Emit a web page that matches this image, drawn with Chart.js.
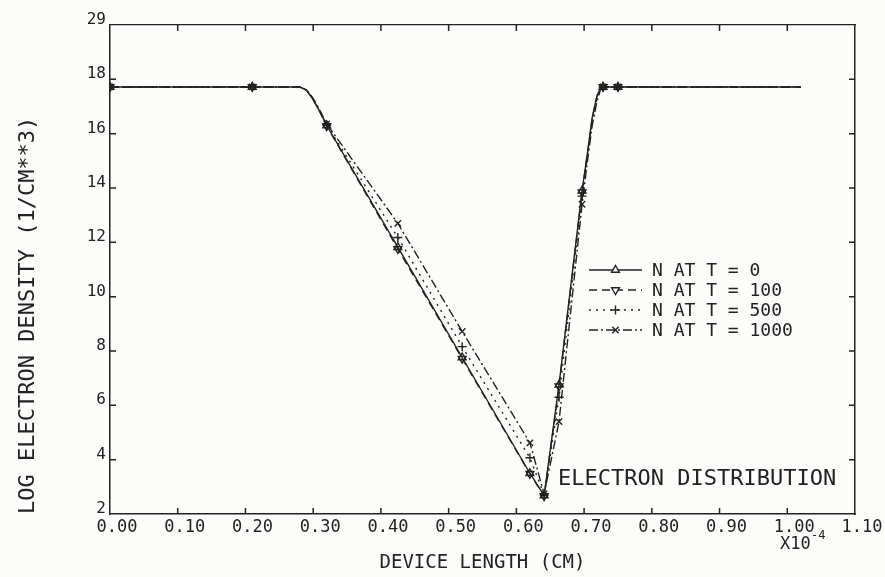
<!DOCTYPE html>
<html>
<head>
<meta charset="utf-8">
<title>Electron distribution</title>
<script src="https://cdn.jsdelivr.net/npm/chart.js@4.4.1/dist/chart.umd.min.js"></script>
<style>
    html, body { margin: 0; padding: 0; background: #fcfcfa; }
    canvas { display: block; }
</style>
</head>
<body>
<canvas id="chart" width="885" height="577"></canvas>
<script>
(function(global){
    "use strict";

    // device length, in units of 1e-4 cm
    var POSITIONS = [0.00, 0.21, 0.28, 0.29, 0.30, 0.31, 0.32, 0.425, 0.52, 0.62, 0.641, 0.663, 0.697, 0.705, 0.712, 0.719, 0.724, 0.728, 0.75, 1.02];

    // log electron density (1/cm**3) at each position
    var N_T0    = [17.72, 17.72, 17.72, 17.60, 17.25, 16.80, 16.30, 11.82, 7.76, 3.50, 2.68, 6.76, 13.90, 15.30, 16.60, 17.40, 17.65, 17.72, 17.72, 17.72];
    var N_T100  = [17.72, 17.72, 17.72, 17.60, 17.25, 16.79, 16.28, 11.76, 7.72, 3.48, 2.66, 6.70, 13.85, 15.25, 16.55, 17.38, 17.64, 17.72, 17.72, 17.72];
    var N_T500  = [17.72, 17.72, 17.72, 17.61, 17.27, 16.82, 16.32, 12.18, 8.16, 4.07, 2.70, 6.30, 13.70, 15.20, 16.45, 17.30, 17.62, 17.72, 17.72, 17.72];
    var N_T1000 = [17.72, 17.72, 17.72, 17.62, 17.30, 16.85, 16.36, 12.70, 8.72, 4.62, 2.74, 5.40, 13.40, 15.00, 16.30, 17.20, 17.60, 17.72, 17.72, 17.72];

    var SERIES_NAMES = ["N AT T = 0", "N AT T = 100", "N AT T = 500", "N AT T = 1000"];

    // positions where the plotter put a symbol on each curve
    var MARKER_POSITIONS = [0.00, 0.21, 0.32, 0.425, 0.52, 0.62, 0.641, 0.663, 0.697, 0.728, 0.75];

    // top tick of the y axis is printed as "29" on the original
    var Y_TICK_TEXT = { 20: "29" };

    var INK = "#222222";
    var PAPER = "#fcfcfa";
    var MONO = "'DejaVu Sans Mono', 'Liberation Mono', monospace";

    var points = function(ys) {
        var out = [];
        for(var i = 0; i < POSITIONS.length; i++) {
            out.push({ x: POSITIONS[i], y: ys[i] });
        }
        return out;
    };

    var markerRadius = function(ctx) {
        var raw = ctx.raw;
        if(raw && MARKER_POSITIONS.indexOf(raw.x) >= 0) {
            return 4.5;
        }
        return 0;
    };

    var makeSeries = function(label, ys, dash, style, rotation) {
        return {
            label: label,
            data: points(ys),
            borderColor: INK,
            borderWidth: 1.4,
            borderDash: dash,
            backgroundColor: "rgba(0,0,0,0)",
            pointStyle: style,
            pointRotation: rotation,
            pointRadius: markerRadius,
            pointBorderColor: INK,
            pointBorderWidth: 1.4,
            pointBackgroundColor: "rgba(0,0,0,0)",
            tension: 0,
            fill: false
        };
    };

    var datasets = [
        makeSeries(SERIES_NAMES[0], N_T0, [], "triangle", 0),
        makeSeries(SERIES_NAMES[1], N_T100, [8, 5], "triangle", 180),
        makeSeries(SERIES_NAMES[2], N_T500, [2, 5], "cross", 0),
        makeSeries(SERIES_NAMES[3], N_T1000, [9, 3, 2, 3], "crossRot", 0)
    ];

    // tick marks that point into the plot on all four sides
    var innerTicks = {
        id: "innerTicks",
        afterDatasetsDraw: function(chart) {
            var ctx = chart.ctx;
            var area = chart.chartArea;
            var len = 6;

            ctx.save();
            ctx.strokeStyle = INK;
            ctx.lineWidth = 1.5;
            ctx.setLineDash([]);
            ctx.beginPath();

            ["x", "x2"].forEach(function(id){
                var scale = chart.scales[id];
                var y0 = id === "x" ? area.bottom : area.top;
                var dir = id === "x" ? -1 : 1;
                scale.ticks.forEach(function(t){
                    var px = scale.getPixelForValue(t.value);
                    if(px <= area.left + 1 || px >= area.right - 1) {
                        return;
                    }
                    ctx.moveTo(px, y0);
                    ctx.lineTo(px, y0 + dir * len);
                });
            });

            ["y", "y2"].forEach(function(id){
                var scale = chart.scales[id];
                var x0 = id === "y" ? area.left : area.right;
                var dir = id === "y" ? 1 : -1;
                scale.ticks.forEach(function(t){
                    var py = scale.getPixelForValue(t.value);
                    if(py <= area.top + 1 || py >= area.bottom - 1) {
                        return;
                    }
                    ctx.moveTo(x0, py);
                    ctx.lineTo(x0 + dir * len, py);
                });
            });

            ctx.stroke();
            ctx.restore();
        }
    };

    // plotter style legend: line sample with the symbol in the middle
    var plotterLegend = {
        id: "plotterLegend",
        afterDraw: function(chart) {
            var ctx = chart.ctx;
            var left = 589, right = 642, textX = 652;
            var rowY = [270, 290, 310, 330];

            ctx.save();
            chart.data.datasets.forEach(function(ds, i){
                var y = rowY[i];

                ctx.strokeStyle = INK;
                ctx.lineWidth = 1.4;
                ctx.setLineDash(ds.borderDash || []);
                ctx.beginPath();
                ctx.moveTo(left, y);
                ctx.lineTo(right, y);
                ctx.stroke();
                ctx.setLineDash([]);

                ctx.fillStyle = PAPER;
                if(global.Chart.helpers && global.Chart.helpers.drawPoint) {
                    global.Chart.helpers.drawPoint(ctx, {
                        pointStyle: ds.pointStyle,
                        rotation: ds.pointRotation,
                        radius: 4.5,
                        borderWidth: 1.4
                    }, (left + right) / 2, y);
                }

                ctx.fillStyle = INK;
                ctx.font = "18px " + MONO;
                ctx.textAlign = "left";
                ctx.textBaseline = "middle";
                ctx.fillText(ds.label, textX, y + 1);
            });

            // caption inside the plot
            ctx.font = "22px " + MONO;
            ctx.textBaseline = "alphabetic";
            ctx.fillText("ELECTRON DISTRIBUTION", 558, 485);

            // x axis multiplier
            ctx.font = "17px " + MONO;
            ctx.fillText("X10", 780, 549);
            ctx.font = "12px " + MONO;
            ctx.fillText("-4", 811, 539);

            ctx.restore();
        }
    };

    var forceWidth = function(w) {
        return function(scale) { scale.width = w; };
    };
    var forceHeight = function(h) {
        return function(scale) { scale.height = h; };
    };

    var ctx = document.getElementById("chart").getContext("2d");

    new Chart(ctx, {
        type: "line",
        data: { datasets: datasets },
        options: {
            responsive: false,
            animation: false,
            devicePixelRatio: 1,
            layout: { padding: { left: 0, right: 30, top: 25, bottom: 0 } },
            plugins: {
                legend: { display: false },
                tooltip: { enabled: false }
            },
            scales: {
                x: {
                    type: "linear",
                    position: "bottom",
                    min: 0,
                    max: 1.1,
                    afterFit: forceHeight(63),
                    grid: { display: false, drawTicks: false },
                    border: { display: true, color: INK, width: 1.5 },
                    ticks: {
                        stepSize: 0.1,
                        autoSkip: false,
                        maxRotation: 0,
                        padding: 3,
                        labelOffset: 7,
                        color: INK,
                        font: { family: MONO, size: 17 },
                        callback: function(v) { return Number(v).toFixed(2); }
                    },
                    title: {
                        display: true,
                        text: "DEVICE LENGTH (CM)",
                        color: INK,
                        font: { family: MONO, size: 19 },
                        padding: { top: 0, bottom: 3 }
                    }
                },
                x2: {
                    type: "linear",
                    position: "top",
                    min: 0,
                    max: 1.1,
                    afterFit: forceHeight(0),
                    grid: { display: false, drawTicks: false },
                    border: { display: true, color: INK, width: 1.2, dash: [10, 3, 2, 3] },
                    ticks: { display: false, stepSize: 0.1 }
                },
                y: {
                    type: "linear",
                    position: "left",
                    min: 2,
                    max: 20,
                    afterFit: forceWidth(110),
                    grid: { display: false, drawTicks: false },
                    border: { display: true, color: INK, width: 1.5 },
                    ticks: {
                        stepSize: 2,
                        autoSkip: false,
                        padding: 4,
                        labelOffset: -5,
                        color: INK,
                        font: { family: MONO, size: 16 },
                        callback: function(v) {
                            return Y_TICK_TEXT[v] || String(v);
                        }
                    },
                    title: {
                        display: true,
                        text: "LOG ELECTRON DENSITY (1/CM**3)",
                        align: "start",
                        color: INK,
                        font: { family: MONO, size: 22 },
                        padding: { top: 15, bottom: 0 }
                    }
                },
                y2: {
                    type: "linear",
                    position: "right",
                    min: 2,
                    max: 20,
                    afterFit: forceWidth(0),
                    grid: { display: false, drawTicks: false },
                    border: { display: true, color: INK, width: 1.5 },
                    ticks: { display: false, stepSize: 2 }
                }
            }
        },
        plugins: [innerTicks, plotterLegend]
    });

})(window);
</script>
</body>
</html>
